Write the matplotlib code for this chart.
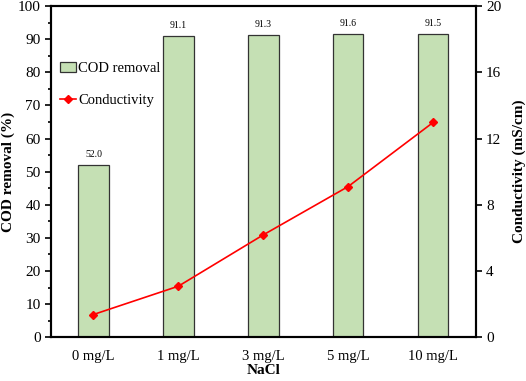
import matplotlib
matplotlib.use("Agg")
import matplotlib.pyplot as plt
from matplotlib.ticker import MultipleLocator

plt.rcParams['font.family'] = ['Liberation Serif', 'DejaVu Serif']

# data
nacl = ['0 mg/L', '1 mg/L', '3 mg/L', '5 mg/L', '10 mg/L']
cod_removal = [52.0, 91.1, 91.3, 91.6, 91.5]
conductivity = [1.37, 3.08, 6.18, 9.1, 12.97]

fig, ax = plt.subplots(figsize=(5.26, 3.81), dpi=100)
fig.subplots_adjust(left=0.097, right=0.904, top=0.984, bottom=0.115)

x = range(len(nacl))
bars = ax.bar(x, cod_removal, width=0.36, color='#c5e0b4', edgecolor='#333333',
              linewidth=0.9, label='COD removal', zorder=2)
for xi, v in zip(x, cod_removal):
    ax.text(xi, v + 1.8, '%.1f' % v, ha='center', va='bottom', fontsize=7)

ax.set_xlim(-0.5, 4.5)
ax.set_ylim(0, 100)
ax.set_xticks(list(x))
ax.set_xticklabels(nacl, fontsize=10.5)
ax.tick_params(axis='x', length=0, pad=9)
ax.yaxis.set_major_locator(MultipleLocator(10))
ax.yaxis.set_minor_locator(MultipleLocator(5))
ax.tick_params(axis='y', which='major', direction='out', length=4, width=1.2, labelsize=11)
ax.tick_params(axis='y', which='minor', direction='out', length=2.5, width=1.2)
ax.set_xlabel('NaCl', fontsize=11, fontweight='bold', labelpad=1)
ax.set_ylabel('COD removal (%)', fontsize=11, fontweight='bold', labelpad=2)
for s in ax.spines.values():
    s.set_linewidth(1.5)

ax2 = ax.twinx()
line, = ax2.plot(list(x), conductivity, '-D', color='red', markersize=4,
                 linewidth=1.2, label='Conductivity', zorder=3)
ax2.set_ylim(0, 20)
ax2.yaxis.set_major_locator(MultipleLocator(4))
ax2.tick_params(axis='y', direction='out', length=4, width=1.2, labelsize=11)
ax2.set_ylabel('Conductivity (mS/cm)', fontsize=11, fontweight='bold', labelpad=8)
for s in ax2.spines.values():
    s.set_linewidth(1.5)

ax.legend([bars, line], ['COD removal', 'Conductivity'], loc='upper left',
          bbox_to_anchor=(0.0, 0.858), frameon=False, fontsize=10.5,
          handlelength=1.1, handletextpad=0.15, labelspacing=1.3, borderaxespad=0.2)

fig.savefig('out.png', dpi=100)
